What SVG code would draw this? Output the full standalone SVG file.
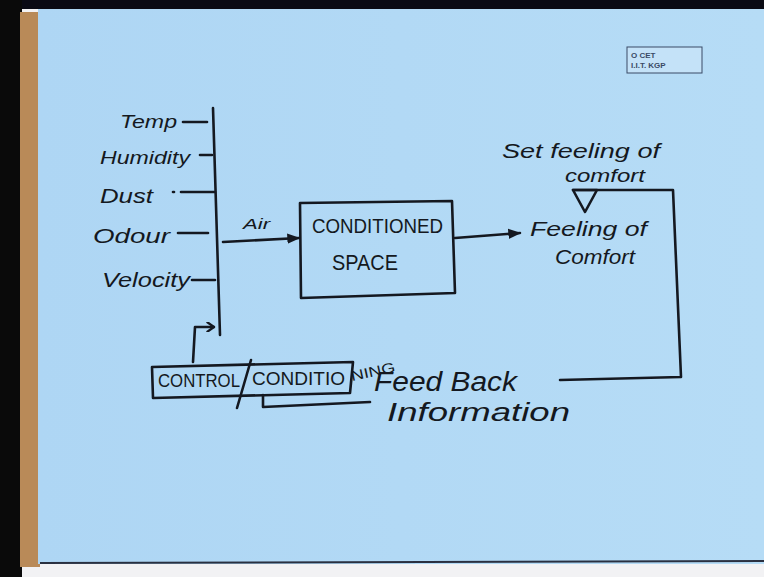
<svg xmlns="http://www.w3.org/2000/svg" width="764" height="577" viewBox="0 0 764 577">
<style>
.ink{stroke:#141820;stroke-width:2.6;fill:none;stroke-linecap:round;stroke-linejoin:round}
.hw{font-family:"Liberation Sans","DejaVu Sans",sans-serif;fill:#141820;font-style:italic}
.cap{font-family:"Liberation Sans","DejaVu Sans",sans-serif;fill:#141820}
.logo{font-family:"Liberation Sans",sans-serif;font-weight:bold;font-size:8px;fill:#3a4a66}
</style>
<defs>
<marker id="tri" viewBox="0 0 10 10" refX="9" refY="5" markerWidth="5" markerHeight="5" orient="auto" markerUnits="strokeWidth">
<path d="M0,1 L10,5 L0,9 Z" fill="#141820"/>
</marker>
<marker id="chev" viewBox="0 0 10 10" refX="9" refY="5" markerWidth="4" markerHeight="4" orient="auto" markerUnits="strokeWidth">
<path d="M2,0 L9,5 L2,10" fill="none" stroke="#141820" stroke-width="2.2"/>
</marker>
<linearGradient id="paper" x1="0" y1="0" x2="1" y2="0">
<stop offset="0" stop-color="#aed6f4"/>
<stop offset="1" stop-color="#b6dcf6"/>
</linearGradient>
</defs>
<!-- background -->
<rect x="0" y="0" width="764" height="577" fill="#f2f2f4"/>
<rect x="0" y="0" width="764" height="9" fill="#0a0a14"/>
<rect x="0" y="0" width="22" height="577" fill="#0a0a0a"/>
<rect x="20" y="12" width="20" height="555" fill="#b98a58"/>
<rect x="38" y="9" width="726" height="555" fill="url(#paper)"/>
<line x1="40" y1="563" x2="764" y2="561" stroke="#2a3040" stroke-width="2"/>

<!-- logo -->
<g id="logo">
<rect x="627" y="47" width="75" height="26" fill="#c4e2f8" stroke="#3a4a66" stroke-width="1"/>
<text class="logo" x="631" y="58">O CET</text>
<text class="logo" x="631" y="68">I.I.T. KGP</text>
</g>

<!-- input labels -->
<g id="temp"><text class="hw" x="120" y="128" font-size="19" textLength="57" lengthAdjust="spacingAndGlyphs">Temp</text></g>
<g id="humidity"><text class="hw" x="100" y="164" font-size="19" textLength="90" lengthAdjust="spacingAndGlyphs">Humidity</text></g>
<g id="dust"><text class="hw" x="100" y="203" font-size="20" textLength="53" lengthAdjust="spacingAndGlyphs">Dust</text></g>
<g id="odour"><text class="hw" x="93" y="243" font-size="21" textLength="77" lengthAdjust="spacingAndGlyphs">Odour</text></g>
<g id="velocity"><text class="hw" x="102" y="287" font-size="20" textLength="88" lengthAdjust="spacingAndGlyphs">Velocity</text></g>

<!-- conditioned space -->
<g id="conditioned-space">
<path class="ink" d="M300,203 L452,201 L455,293 L301,298 Z"/>
<text class="cap" x="312" y="233" font-size="21" textLength="131" lengthAdjust="spacingAndGlyphs">CONDITIONED</text>
<text class="cap" x="332" y="270" font-size="22" textLength="66" lengthAdjust="spacingAndGlyphs">SPACE</text>
</g>

<!-- feeling of comfort -->
<g id="feeling">
<text class="hw" x="530" y="236" font-size="20" textLength="117" lengthAdjust="spacingAndGlyphs">Feeling of</text>
<text class="hw" x="555" y="264" font-size="20" textLength="80" lengthAdjust="spacingAndGlyphs">Comfort</text>
</g>

<!-- set feeling -->
<g id="set-feeling">
<text class="hw" x="502" y="158" font-size="20" textLength="158" lengthAdjust="spacingAndGlyphs">Set feeling of</text>
<text class="hw" x="565" y="182" font-size="19" textLength="80" lengthAdjust="spacingAndGlyphs">comfort</text>
</g>

<!-- control box -->
<g id="control">
<path class="ink" d="M152,367 L353,362 L350,393 L153,398 Z"/>
<text class="cap" x="158" y="387" font-size="18" textLength="82" lengthAdjust="spacingAndGlyphs">CONTROL</text>
<text class="cap" x="252" y="385" font-size="18" textLength="93" lengthAdjust="spacingAndGlyphs">CONDITIO</text>
<text class="cap" x="352" y="381" font-size="14" textLength="45" lengthAdjust="spacingAndGlyphs" transform="rotate(-12 352 381)">NING</text>
</g>

<!-- feedback label -->
<g id="feedback-label">
<text class="hw" x="374" y="391" font-size="27" textLength="143" lengthAdjust="spacingAndGlyphs">Feed Back</text>
<text class="hw" x="387" y="421" font-size="25" textLength="183" lengthAdjust="spacingAndGlyphs">Information</text>
</g>

<!-- connectors -->
<g id="connectors">
<line class="ink" x1="183" y1="122" x2="207" y2="122"/>
<line class="ink" x1="200" y1="155" x2="212" y2="155"/>
<line class="ink" x1="173" y1="192" x2="174" y2="192"/>
<line class="ink" x1="181" y1="192" x2="215" y2="192"/>
<line class="ink" x1="178" y1="233" x2="208" y2="233"/>
<line class="ink" x1="192" y1="280" x2="215" y2="280"/>
<line class="ink" x1="213" y1="108" x2="220" y2="335"/>
<line class="ink" x1="223" y1="242" x2="299" y2="238" marker-end="url(#tri)"/>
<text class="hw" x="243" y="229" font-size="15" textLength="27" lengthAdjust="spacingAndGlyphs">Air</text>
<line class="ink" x1="455" y1="238" x2="520" y2="233" marker-end="url(#tri)"/>
<path class="ink" d="M573,190 L673,190 L681,377 L560,380"/>
<path class="ink" d="M573,190 L597,190 L585,212 Z"/>
<path class="ink" d="M193,362 L195,327 L214,327" marker-end="url(#chev)"/>
<line class="ink" x1="251" y1="360" x2="237" y2="408"/>
<path class="ink" d="M263,395 L263,407 L370,402"/>
</g>
</svg>
